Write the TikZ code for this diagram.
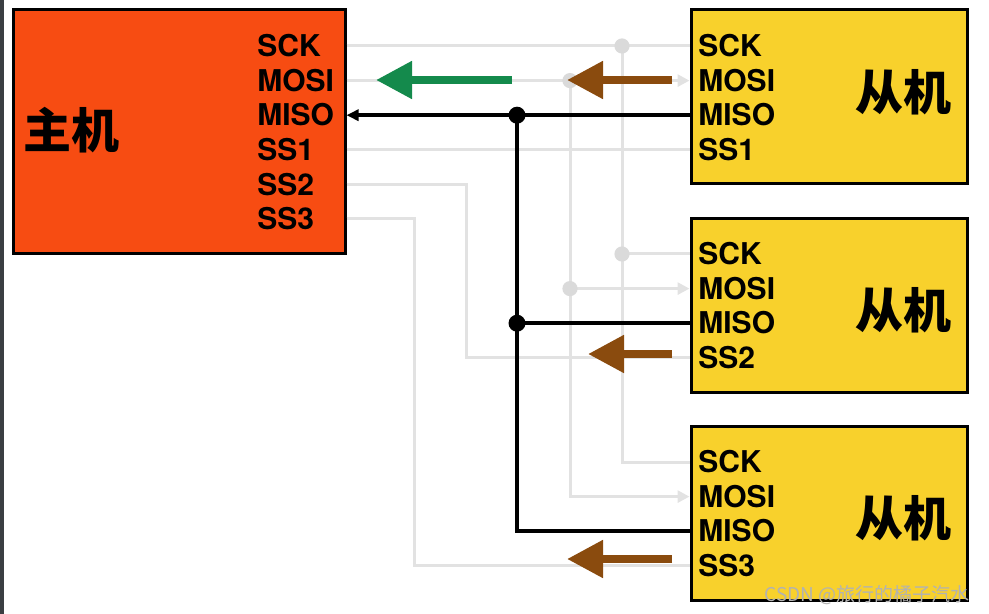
\documentclass[tikz,border=0pt]{standalone}
\usepackage{fontspec}
\setmainfont{TeX Gyre Heros}
\newfontfamily\cjk{Noto Sans CJK SC}
\usetikzlibrary{arrows.meta, positioning}

\definecolor{hostred}{HTML}{F74C12}
\definecolor{slaveyellow}{HTML}{F8D12C}
\definecolor{wiregray}{HTML}{E2E2E2}
\definecolor{dotgray}{HTML}{DADADA}
\definecolor{flowgreen}{HTML}{148A4C}
\definecolor{flowbrown}{HTML}{8A4B0E}
\definecolor{sidebar}{HTML}{3A3E42}

\begin{document}
\begin{tikzpicture}[x=0.5pt,y=-0.5pt,
    host node/.style={rectangle,draw,line width=1.5pt,fill=hostred,minimum width=166pt,minimum height=122pt,inner sep=0},
    slave node/.style={rectangle,draw,line width=1.5pt,fill=slaveyellow,minimum width=138pt,minimum height=87pt,inner sep=0},
    pin node/.style={anchor=west,inner sep=0,text height=10.7pt,text depth=0pt,font=\bfseries\fontsize{15}{15}\selectfont},
    title node/.style={inner sep=0,font=\cjk\bfseries\fontsize{24}{24}\selectfont},
    wire/.style={draw=wiregray,line width=1.5pt},
    miso wire/.style={draw=black,line width=1.8pt},
    junction/.style={circle,inner sep=0,minimum size=8.5pt},
    flow/.style={line width=4pt,-{Triangle[length=18pt,width=18pt]}}]

\useasboundingbox (0,0) rectangle (989,614);
\fill[sidebar] (0,0) rectangle (4,614);

% boxes
\node[host node]  (master) at (179,132)   {};
\node[slave node] (s1)     at (829,97)    {};
\node[slave node] (s2)     at (829,305.5) {};
\node[slave node] (s3)     at (829,513.5) {};

\node[title node] (mtitle) at (72,130) {主机};
\foreach \s/\y in {1/92, 2/310, 3/518}
  \node[title node] (t\s) at (903,\y) {从机};

% pins
\foreach \p [count=\i] in {SCK,MOSI,MISO,SS1,SS2,SS3}
  \node[pin node] (m-\p) at (257,{46+34.6*(\i-1)}) {\p};
\foreach \s/\y in {1/46, 2/254, 3/462}
  \foreach \p [count=\i] in {SCK,MOSI,MISO,SS\s}
    \node[pin node] (s\s-\i) at (698,{\y+34.6*(\i-1)}) {\p};

% bus columns
\coordinate (sck bus)  at (622,0);
\coordinate (mosi bus) at (570,0);
\coordinate (miso bus) at (517,0);
\coordinate (ss2 turn) at (466,0);
\coordinate (ss3 turn) at (414,0);

% SCK
\draw[wire] (master.east |- m-SCK) -- (s1.west |- s1-1);
\draw[wire] (sck bus |- m-SCK) -- (sck bus |- s3-1) -- (s3.west |- s3-1);
\draw[wire] (sck bus |- s2-1) -- (s2.west |- s2-1);
\fill[dotgray] (sck bus |- m-SCK) circle (3.8pt) (sck bus |- s2-1) circle (3.8pt);

% MOSI
\draw[wire,-{Triangle[length=6pt,width=6pt]}] (master.east |- m-MOSI) -- (s1.west |- s1-2);
\draw[wire,-{Triangle[length=6pt,width=6pt]}] (mosi bus |- m-MOSI) -- (mosi bus |- s3-2) -- (s3.west |- s3-2);
\draw[wire,-{Triangle[length=6pt,width=6pt]}] (mosi bus |- s2-2) -- (s2.west |- s2-2);
\fill[dotgray] (mosi bus |- m-MOSI) circle (3.8pt) (mosi bus |- s2-2) circle (3.8pt);

% SS lines
\draw[wire] (master.east |- m-SS1) -- (s1.west |- s1-4);
\draw[wire] (master.east |- m-SS2) -- (ss2 turn |- m-SS2) -- (ss2 turn |- s2-4) -- (s2.west |- s2-4);
\draw[wire] (master.east |- m-SS3) -- (ss3 turn |- m-SS3) -- (ss3 turn |- s3-4) -- (s3.west |- s3-4);

% MISO
\draw[miso wire,-{Triangle[length=6pt,width=5.5pt]}] (s1.west |- s1-3) -- (master.east |- m-MISO);
\draw[miso wire] (miso bus |- m-MISO) -- (miso bus |- s3-3) -- (s3.west |- s3-3);
\draw[miso wire] (miso bus |- s2-3) -- (s2.west |- s2-3);
\node[junction,fill=black] (j1) at (miso bus |- m-MISO) {};
\node[junction,fill=black] (j2) at (miso bus |- s2-3) {};

% data flow
\coordinate (g from) at (512,80);  \coordinate (g to) at (376,80);
\coordinate (b1 from) at (672,80); \coordinate (b1 to) at (567,80);
\coordinate (b2 from) at (672,354); \coordinate (b2 to) at (588,354);
\coordinate (b3 from) at (672,559); \coordinate (b3 to) at (567,559);
\draw[flow,flowgreen] (g from) -- (g to);
\draw[flow,flowbrown] (b1 from) -- (b1 to);
\draw[flow,flowbrown] (b2 from) -- (b2 to);
\draw[flow,flowbrown] (b3 from) -- (b3 to);

\node[inner sep=0,text=gray!60,font=\cjk\fontsize{9.5}{9.5}\selectfont] (mark) at (867,595) {CSDN @旅行的橘子汽水};
\end{tikzpicture}
\end{document}
